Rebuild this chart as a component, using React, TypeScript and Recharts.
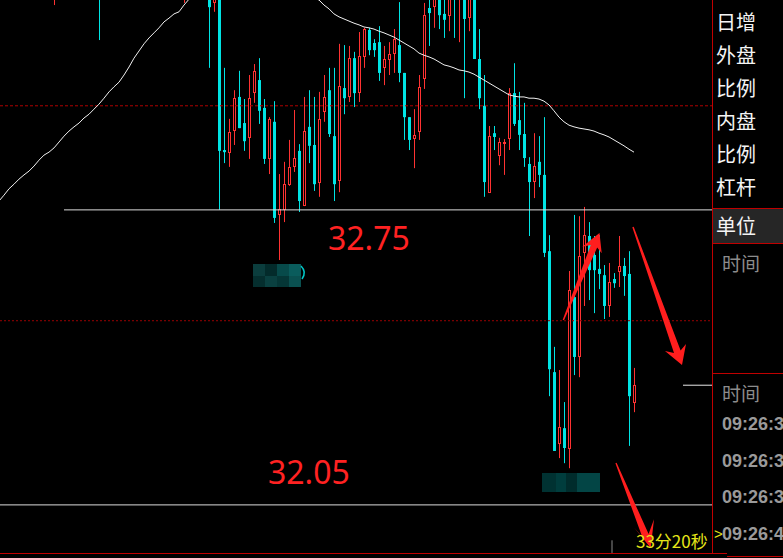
import { ComposedChart, Bar, Line, XAxis, YAxis, ReferenceLine } from "recharts";

// one slot = one minute bar, only bars that reach into the window are listed
const candleSlots = [
  10, 19, 36, 41, 42, 43, 44, 45, 46, 47,
  48, 49, 50, 51, 52, 53, 54, 55, 56, 57,
  58, 59, 60, 61, 62, 63, 64, 65, 66, 67,
  68, 69, 70, 71, 72, 73, 74, 75, 76, 77,
  78, 79, 80, 81, 82, 83, 84, 85, 86, 87,
  88, 89, 90, 91, 92, 93, 94, 95, 96, 97,
  98, 99, 100, 101, 102, 103, 104, 105, 106, 107,
  108, 109, 110, 111, 112, 113, 114, 115, 116, 117,
  118, 119, 120, 121, 122, 123, 124, 125, 126,
];

const opens = [
  33.267, 33.343, 33.262, 33.319, 33.241, 33.272, 32.892, 32.885, 32.937, 33.018,
  32.956, 32.921, 33.027, 33.058, 32.992, 32.871, 32.959, 32.738, 32.75, 32.809,
  32.852, 32.89, 32.759, 32.947, 32.904, 32.814, 32.982, 33.034, 32.925, 32.818,
  33.039, 33.018, 33.11, 33.027, 33.113, 33.177, 33.146, 33.148, 33.087, 33.106,
  33.12, 33.141, 33.075, 32.97, 32.918, 32.935, 33.061, 33.229, 33.231, 33.272,
  33.215, 33.21, 33.295, 33.26, 33.272, 33.205, 33.272, 33.108, 32.997, 32.79,
  32.932, 32.878, 32.909, 32.918, 33.027, 32.963, 32.93, 32.859, 32.816, 32.864,
  32.833, 32.652, 32.365, 32.194, 32.232, 32.183, 32.543, 32.401, 32.648, 32.688,
  32.643, 32.61, 32.595, 32.522, 32.586, 32.603, 32.617, 32.598, 32.292,
];

const highs = [
  33.331, 33.355, 33.319, 33.331, 33.295, 33.284, 33.087, 32.966, 33.034, 33.08,
  33.013, 33.07, 33.096, 33.11, 33.013, 32.97, 33.008, 32.835, 32.864, 32.916,
  32.987, 32.906, 33.018, 33.034, 33.018, 33.03, 33.07, 33.087, 33.087, 33.144,
  33.141, 33.139, 33.125, 33.172, 33.182, 33.182, 33.155, 33.186, 33.139, 33.148,
  33.179, 33.243, 33.075, 32.97, 32.989, 33.07, 33.241, 33.26, 33.284, 33.284,
  33.26, 33.284, 33.307, 33.307, 33.284, 33.284, 33.284, 33.179, 33.07, 32.949,
  32.949, 32.921, 32.918, 33.039, 33.098, 33.03, 33.004, 32.875, 32.932, 32.925,
  32.97, 32.69, 32.425, 32.37, 32.294, 32.605, 32.738, 32.735, 32.757, 32.721,
  32.688, 32.69, 32.619, 32.624, 32.6, 32.688, 32.636, 32.652, 32.375,
];

const lows = [
  33.236, 33.153, 33.241, 33.087, 33.22, 32.75, 32.861, 32.852, 32.904, 32.944,
  32.89, 32.871, 33.004, 32.954, 32.859, 32.835, 32.719, 32.631, 32.721, 32.807,
  32.84, 32.745, 32.759, 32.861, 32.795, 32.781, 32.959, 32.923, 32.771, 32.792,
  32.977, 33.006, 32.994, 33.006, 33.087, 33.117, 33.113, 33.056, 33.046, 33.07,
  33.075, 33.053, 32.916, 32.892, 32.849, 32.916, 33.037, 33.139, 33.182, 33.179,
  33.158, 33.174, 33.158, 33.148, 33.015, 33.174, 33.108, 32.989, 32.781, 32.79,
  32.892, 32.856, 32.833, 32.892, 32.949, 32.892, 32.852, 32.688, 32.778, 32.804,
  32.638, 32.308, 32.178, 32.161, 32.149, 32.137, 32.358, 32.353, 32.522, 32.536,
  32.505, 32.562, 32.491, 32.496, 32.565, 32.567, 32.546, 32.19, 32.27,
];

const closes = [
  33.319, 33.26, 33.307, 33.231, 33.284, 32.89, 32.887, 32.935, 33.015, 32.944,
  32.913, 33.015, 33.08, 32.985, 32.871, 32.966, 32.731, 32.752, 32.811, 32.852,
  32.873, 32.771, 32.937, 32.902, 32.811, 32.966, 33.018, 32.93, 32.811, 33.044,
  33.015, 33.11, 33.027, 33.115, 33.179, 33.129, 33.129, 33.075, 33.108, 33.12,
  33.155, 33.075, 32.97, 32.916, 32.928, 33.042, 33.212, 33.217, 33.272, 33.212,
  33.201, 33.272, 33.26, 33.295, 33.203, 33.272, 33.108, 33.015, 32.816, 32.925,
  32.923, 32.911, 32.911, 33.027, 32.954, 32.928, 32.873, 32.816, 32.854, 32.833,
  32.648, 32.372, 32.178, 32.235, 32.185, 32.56, 32.401, 32.641, 32.69, 32.607,
  32.607, 32.598, 32.522, 32.579, 32.576, 32.617, 32.593, 32.308, 32.334,
];

// moving average, slot -1..126 (null where it runs above the window)
const maValues = [
  32.771,
  32.785, 32.8, 32.811, 32.823, 32.833, 32.842, 32.854, 32.868, 32.88, 32.887,
  32.897, 32.911, 32.925, 32.937, 32.947, 32.956, 32.968, 32.977, 32.989, 33.001,
  33.015, 33.03, 33.042, 33.053, 33.07, 33.089, 33.11, 33.127, 33.144, 33.158,
  33.17, 33.182, 33.196, 33.205, 33.215, 33.22, 33.236, 33.25, null, null,
  null, null, null, null, null, null, null, null, null, null,
  null, null, null, null, null, null, null, null, null, null,
  null, null, 33.253, 33.248, 33.236, 33.227, 33.215, 33.208, 33.203, 33.198,
  33.193, 33.189, 33.184, 33.182, 33.179, 33.174, 33.17, 33.165, 33.16, 33.153,
  33.146, 33.139, 33.132, 33.122, 33.117, 33.113, 33.108, 33.101, 33.094, 33.091,
  33.087, 33.082, 33.08, 33.077, 33.072, 33.065, 33.058, 33.051, 33.044, 33.037,
  33.03, 33.023, 33.02, 33.018, 33.018, 33.015, 33.015, 33.013, 33.008, 32.999,
  32.985, 32.97, 32.959, 32.951, 32.947, 32.944, 32.942, 32.94, 32.937, 32.932,
  32.928, 32.923, 32.916, 32.909, 32.902, 32.894, 32.887,
];

const supportHigh = 32.75;
const supportLow = 32.05;
const dashedLevels = [32.997, 32.487];
const sideMarkLevel = 32.334;

const sideLabels = ["日增", "外盘", "比例", "内盘", "比例", "杠杆"];
const timeRows = ["09:26:3", "09:26:3", "09:26:3", "09:26:4"];

const UP = "#ff3232";
const DOWN = "#00e4e4";
const FRAME = "#c00000";

const data = maValues.map((ma, idx) => {
  const slot = idx - 1;
  const i = candleSlots.indexOf(slot);
  if (i < 0) return { slot, ma } as any;
  return { slot, ma, open: opens[i], high: highs[i], low: lows[i], close: closes[i] } as any;
});

const Candle = (props: any) => {
  const { x, y, width, height, payload } = props;
  if (!payload || payload.low == null || !Number.isFinite(y)) return null;
  const { open, close, high, low } = payload;
  const top = Math.min(y, y + height);
  const h = Math.abs(height);
  const span = high - low;
  const toY = (v: number) => (span === 0 ? top : top + ((high - v) / span) * h);
  const cx = Math.round(x + width / 2);
  const up = close > open;
  const color = up ? UP : DOWN;
  const bTop = toY(Math.max(open, close));
  const bBot = toY(Math.min(open, close));
  const bodyH = Math.max(1, bBot - bTop);
  return (
    <g>
      <line x1={cx + 0.5} x2={cx + 0.5} y1={top} y2={top + h} stroke={color} strokeWidth={1} />
      {up ? (
        <rect
          x={cx - 0.5}
          y={Math.round(bTop) + 0.5}
          width={2}
          height={Math.max(1, Math.round(bodyH) - 1)}
          fill="#000"
          stroke={color}
          strokeWidth={1}
        />
      ) : (
        <rect x={cx - 1} y={bTop} width={3} height={bodyH} fill={color} />
      )}
    </g>
  );
};

const NoDot = () => <g />;

const App = () => {
  return (
    <div
      style={{
        position: "absolute",
        left: 0,
        top: 0,
        width: 783,
        height: 558,
        background: "#000",
        overflow: "hidden",
      }}
    >
      <ComposedChart width={712} height={558} data={data} margin={{ top: 0, right: 0, bottom: 0, left: 0 }}>
        <XAxis type="number" dataKey="slot" domain={[-0.8, 141.6]} allowDataOverflow hide />
        <YAxis type="number" domain={[31.924, 33.248]} allowDataOverflow hide />
        <ReferenceLine y={dashedLevels[0]} stroke="#b00000" strokeDasharray="3 2" />
        <ReferenceLine y={dashedLevels[1]} stroke="#990000" strokeDasharray="2 2" />
        <ReferenceLine
          segment={[{ x: 12, y: supportHigh }, { x: 141.6, y: supportHigh }]}
          stroke="#dcdcdc"
        />
        <ReferenceLine y={supportLow} stroke="#dcdcdc" />
        <ReferenceLine
          segment={[{ x: 135.8, y: sideMarkLevel }, { x: 141.6, y: sideMarkLevel }]}
          stroke="#e8e8e8"
        />
        <ReferenceLine
          segment={[{ x: 121.6, y: 31.966 }, { x: 121.6, y: 31.936 }]}
          stroke="#8a8a8a"
        />
        <Bar
          dataKey={(d: any) => (d.low == null ? null : [d.low, d.high])}
          barSize={3}
          shape={Candle}
          isAnimationActive={false}
        />
        <Line
          type="linear"
          dataKey="ma"
          stroke="#f0f0f0"
          strokeWidth={1}
          dot={NoDot}
          activeDot={false}
          connectNulls={false}
          isAnimationActive={false}
        />
      </ComposedChart>

      <svg
        width={783}
        height={558}
        style={{ position: "absolute", left: 0, top: 0, pointerEvents: "none" }}
      >
        {/* blurred marks */}
        <rect x={253} y={264} width={12} height={12} fill="#0b3d3d" />
        <rect x={265} y={264} width={12} height={12} fill="#032b2b" />
        <rect x={277} y={264} width={12} height={12} fill="#074a4a" />
        <rect x={289} y={264} width={12} height={12} fill="#0a5c5c" />
        <rect x={253} y={276} width={12} height={11} fill="#052e2e" />
        <rect x={265} y={276} width={12} height={11} fill="#0a4040" />
        <rect x={277} y={276} width={12} height={11} fill="#053636" />
        <rect x={289} y={276} width={12} height={11} fill="#0a5050" />
        <path d="M301,266 Q307,272 302,279" stroke="#00c8c8" strokeWidth={1.5} fill="none" />
        <rect x={542} y={473} width={14} height={19} fill="#003232" />
        <rect x={556} y={473} width={10} height={19} fill="#003d3d" />
        <rect x={566} y={473} width={11} height={19} fill="#002c2c" />
        <rect x={577} y={473} width={23} height={19} fill="#034545" />

        {/* hand-drawn arrows */}
        <polygon
          points="562.7,319.7 590.8,244.9 582.3,246.7 599.5,233 601.7,253.3 597.2,247.5 564,320.3"
          fill="#ff1e1e"
        />
        <polygon
          points="632.3,227.2 674,353 665,351 682,365 686,344 680.6,350.6 633.7,226.8"
          fill="#ff1e1e"
        />
        <polygon
          points="615.4,463.3 642.2,536.7 634.3,527.7 650.7,548 654,519.3 648.6,534.1 616.6,462.7"
          fill="#ff1e1e"
        />

        <text x={328} y={250} fill="#ff2222" fontSize={32} fontFamily="Noto Sans">
          {supportHigh.toFixed(2)}
        </text>
        <text x={268} y={484} fill="#ff2222" fontSize={32} fontFamily="Noto Sans">
          {supportLow.toFixed(2)}
        </text>
        <text x={636} y={548} fill="#e6e619" fontSize={17} fontFamily="Noto Sans CJK SC">
          33分20秒
        </text>

        {/* right info panel */}
        <line x1={712.5} x2={712.5} y1={0} y2={554} stroke={FRAME} />
        <line x1={0} x2={727} y1={553.5} y2={553.5} stroke={FRAME} />
        <line x1={727} x2={783} y1={556.5} y2={556.5} stroke={FRAME} />
        <rect x={713} y={208} width={70} height={36} fill="#262626" />
        <line x1={713} x2={783} y1={208.5} y2={208.5} stroke={FRAME} />
        <line x1={713} x2={783} y1={243.5} y2={243.5} stroke={FRAME} />
        <line x1={713} x2={783} y1={373.5} y2={373.5} stroke={FRAME} />
        {sideLabels.map((t, i) => (
          <text
            key={i}
            x={716}
            y={30 + i * 33}
            fill="#f4f4f4"
            fontSize={20}
            fontFamily="Noto Sans CJK SC"
          >
            {t}
          </text>
        ))}
        <text x={716} y={234} fill="#f4f4f4" fontSize={20} fontFamily="Noto Sans CJK SC">
          单位
        </text>
        <text x={722} y={271} fill="#8c8c8c" fontSize={19} fontFamily="Noto Sans CJK SC">
          时间
        </text>
        <text x={722} y={401} fill="#8c8c8c" fontSize={19} fontFamily="Noto Sans CJK SC">
          时间
        </text>
        {timeRows.map((t, i) => (
          <text
            key={i}
            x={722}
            y={430 + i * 36.5}
            fill="#9a9a9a"
            fontSize={18}
            fontWeight="bold"
            fontFamily="Liberation Sans"
          >
            {t}
          </text>
        ))}
        <text x={714} y={539} fill="#e6e619" fontSize={15} fontFamily="Liberation Sans">
          &gt;
        </text>
      </svg>
    </div>
  );
};

export default App;
